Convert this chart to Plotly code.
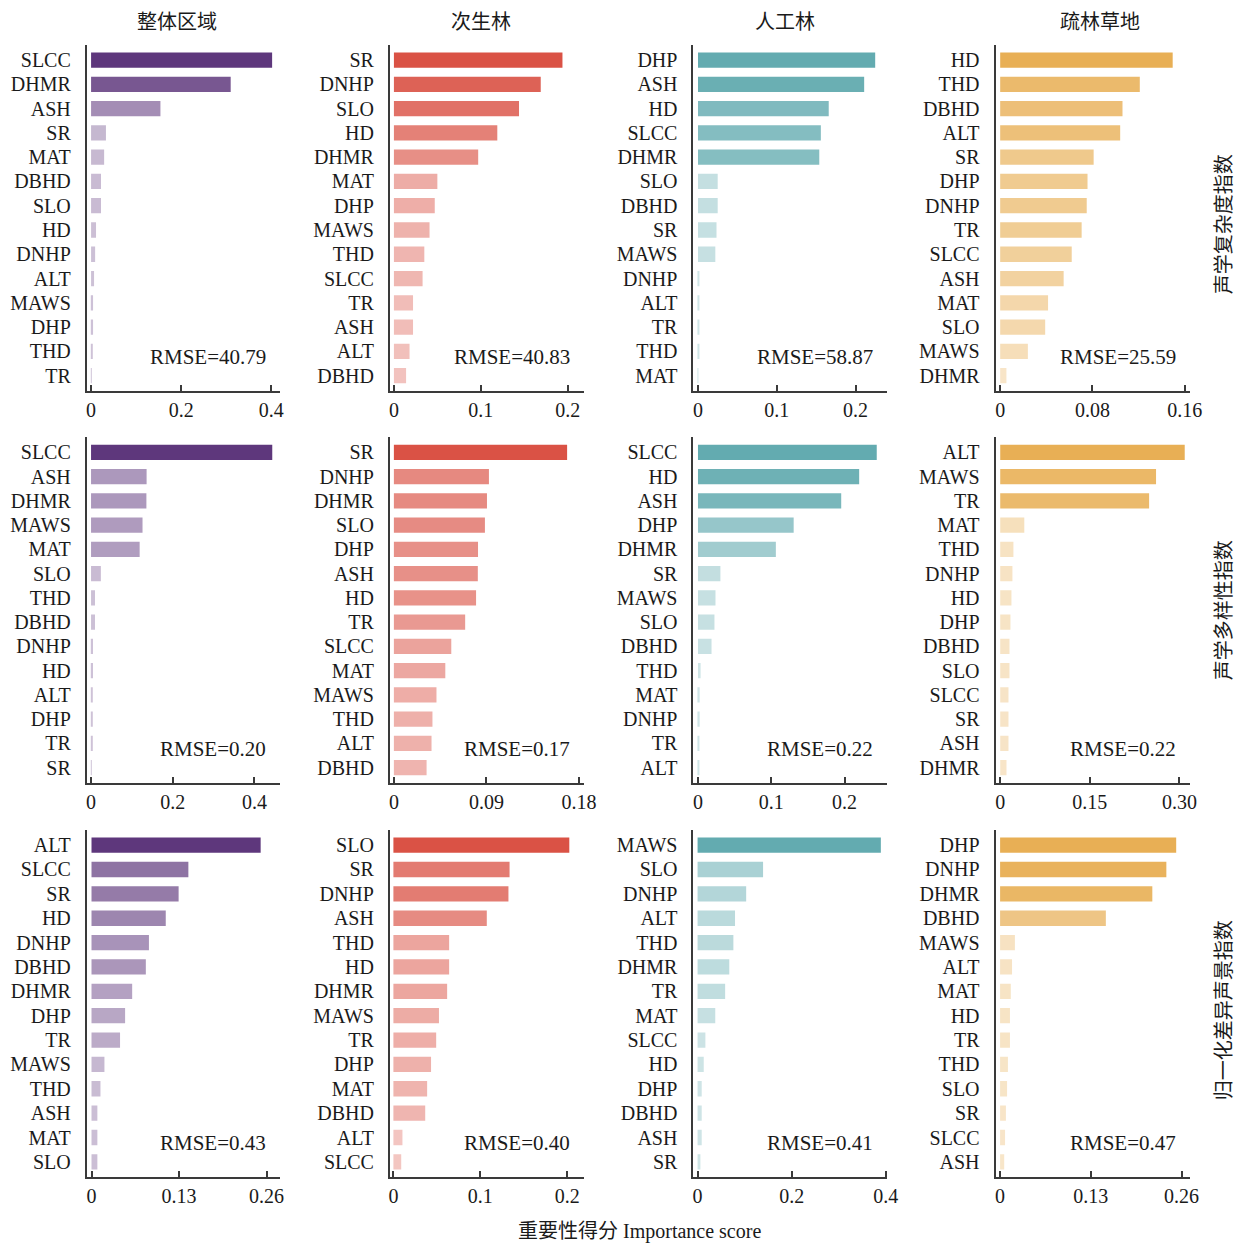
import plotly.graph_objects as go

# ---------------- data ----------------
col_titles = ["整体区域", "次生林", "人工林", "疏林草地"]
row_titles = ["声学复杂度指数", "声学多样性指数", "归一化差异声景指数"]
x_title = "重要性得分 Importance score"

# Row 1: acoustic complexity index
aci_all_labels = ["SLCC", "DHMR", "ASH", "SR", "MAT", "DBHD", "SLO", "HD", "DNHP", "ALT", "MAWS", "DHP", "THD", "TR"]
aci_all_values = [0.402, 0.310, 0.154, 0.033, 0.029, 0.022, 0.022, 0.011, 0.009, 0.0066, 0.0044, 0.0044, 0.002, 0.001]
aci_sec_labels = ["SR", "DNHP", "SLO", "HD", "DHMR", "MAT", "DHP", "MAWS", "THD", "SLCC", "TR", "ASH", "ALT", "DBHD"]
aci_sec_values = [0.194, 0.169, 0.144, 0.119, 0.097, 0.050, 0.047, 0.041, 0.035, 0.033, 0.022, 0.022, 0.018, 0.014]
aci_pla_labels = ["DHP", "ASH", "HD", "SLCC", "DHMR", "SLO", "DBHD", "SR", "MAWS", "DNHP", "ALT", "TR", "THD", "MAT"]
aci_pla_values = [0.225, 0.211, 0.166, 0.156, 0.154, 0.025, 0.025, 0.0235, 0.022, 0.001, 0.001, 0.001, 0.0008, 0.0005]
aci_gra_labels = ["HD", "THD", "DBHD", "ALT", "SR", "DHP", "DNHP", "TR", "SLCC", "ASH", "MAT", "SLO", "MAWS", "DHMR"]
aci_gra_values = [0.1495, 0.121, 0.106, 0.104, 0.081, 0.0757, 0.075, 0.0706, 0.062, 0.055, 0.0415, 0.039, 0.024, 0.0054]

# Row 2: acoustic diversity index
adi_all_labels = ["SLCC", "ASH", "DHMR", "MAWS", "MAT", "SLO", "THD", "DBHD", "DNHP", "HD", "ALT", "DHP", "TR", "SR"]
adi_all_values = [0.4436, 0.136, 0.1355, 0.126, 0.119, 0.024, 0.0097, 0.0097, 0.0048, 0.0048, 0.0024, 0.0024, 0.002, 0.0015]
adi_sec_labels = ["SR", "DNHP", "DHMR", "SLO", "DHP", "ASH", "HD", "TR", "SLCC", "MAT", "MAWS", "THD", "ALT", "DBHD"]
adi_sec_values = [0.1684, 0.0924, 0.0905, 0.0885, 0.0818, 0.0816, 0.0799, 0.0693, 0.0558, 0.050, 0.0414, 0.0375, 0.0366, 0.0318]
adi_pla_labels = ["SLCC", "HD", "ASH", "DHP", "DHMR", "SR", "MAWS", "SLO", "DBHD", "THD", "MAT", "DNHP", "TR", "ALT"]
adi_pla_values = [0.244, 0.220, 0.1955, 0.1306, 0.1063, 0.0306, 0.0239, 0.0225, 0.0185, 0.0036, 0.0023, 0.0023, 0.0018, 0.001]
adi_gra_labels = ["ALT", "MAWS", "TR", "MAT", "THD", "DNHP", "HD", "DHP", "DBHD", "SLO", "SLCC", "SR", "ASH", "DHMR"]
adi_gra_values = [0.3088, 0.2608, 0.2492, 0.0403, 0.0221, 0.0204, 0.0188, 0.0171, 0.0155, 0.0155, 0.0138, 0.0138, 0.0138, 0.0105]

# Row 3: normalized difference soundscape index
ndsi_all_labels = ["ALT", "SLCC", "SR", "HD", "DNHP", "DBHD", "DHMR", "DHP", "TR", "MAWS", "THD", "ASH", "MAT", "SLO"]
ndsi_all_values = [0.2513, 0.1439, 0.1294, 0.1103, 0.0853, 0.0807, 0.0604, 0.0499, 0.0424, 0.0192, 0.0133, 0.0087, 0.0087, 0.0087]
ndsi_sec_labels = ["SLO", "SR", "DNHP", "ASH", "THD", "HD", "DHMR", "MAWS", "TR", "DHP", "MAT", "DBHD", "ALT", "SLCC"]
ndsi_sec_values = [0.2023, 0.1336, 0.1323, 0.1074, 0.0641, 0.0641, 0.0618, 0.0524, 0.0492, 0.0433, 0.0388, 0.0366, 0.0104, 0.009]
ndsi_pla_labels = ["MAWS", "SLO", "DNHP", "ALT", "THD", "DHMR", "TR", "MAT", "SLCC", "HD", "DHP", "DBHD", "ASH", "SR"]
ndsi_pla_values = [0.3895, 0.1392, 0.1033, 0.0796, 0.0761, 0.0674, 0.0586, 0.0376, 0.0166, 0.0131, 0.0088, 0.0088, 0.0088, 0.006]
ndsi_gra_labels = ["DHP", "DNHP", "DHMR", "DBHD", "MAWS", "ALT", "MAT", "HD", "TR", "THD", "SLO", "SR", "SLCC", "ASH"]
ndsi_gra_values = [0.2523, 0.2382, 0.2181, 0.1515, 0.0212, 0.0171, 0.0153, 0.0141, 0.0141, 0.0112, 0.010, 0.0083, 0.0071, 0.0059]

rmse_texts = [
    ["RMSE=40.79", "RMSE=40.83", "RMSE=58.87", "RMSE=25.59"],
    ["RMSE=0.20", "RMSE=0.17", "RMSE=0.22", "RMSE=0.22"],
    ["RMSE=0.43", "RMSE=0.40", "RMSE=0.41", "RMSE=0.47"],
]

tick_vals = [
    [[0, 0.2, 0.4], [0, 0.1, 0.2], [0, 0.1, 0.2], [0, 0.08, 0.16]],
    [[0, 0.2, 0.4], [0, 0.09, 0.18], [0, 0.1, 0.2], [0, 0.15, 0.30]],
    [[0, 0.13, 0.26], [0, 0.1, 0.2], [0, 0.2, 0.4], [0, 0.13, 0.26]],
]
tick_text = [
    [["0", "0.2", "0.4"], ["0", "0.1", "0.2"], ["0", "0.1", "0.2"], ["0", "0.08", "0.16"]],
    [["0", "0.2", "0.4"], ["0", "0.09", "0.18"], ["0", "0.1", "0.2"], ["0", "0.15", "0.30"]],
    [["0", "0.13", "0.26"], ["0", "0.1", "0.2"], ["0", "0.2", "0.4"], ["0", "0.13", "0.26"]],
]

panels = [
    [(aci_all_labels, aci_all_values), (aci_sec_labels, aci_sec_values),
     (aci_pla_labels, aci_pla_values), (aci_gra_labels, aci_gra_values)],
    [(adi_all_labels, adi_all_values), (adi_sec_labels, adi_sec_values),
     (adi_pla_labels, adi_pla_values), (adi_gra_labels, adi_gra_values)],
    [(ndsi_all_labels, ndsi_all_values), (ndsi_sec_labels, ndsi_sec_values),
     (ndsi_pla_labels, ndsi_pla_values), (ndsi_gra_labels, ndsi_gra_values)],
]

# ---------------- style / layout ----------------
W, H = 1252, 1243
base_colors = [(94, 55, 124), (218, 82, 69), (99, 171, 176), (232, 175, 85)]
x_ranges = [
    [[-0.0095, 0.419], [-0.0046, 0.219], [-0.0058, 0.240], [-0.004, 0.1647]],
    [[-0.0104, 0.462], [-0.00385, 0.185], [-0.0062, 0.258], [-0.0078, 0.318]],
    [[-0.007, 0.2797], [-0.004, 0.2194], [-0.0088, 0.4026], [-0.0065, 0.2724]],
]
col_px = [(86.7, 281.7), (393, 589.3), (699.7, 895.3), (1005, 1201.7)]
row_px = [(45, 390.7), (437.3, 782.7), (830, 1177)]
col_title_x = [178, 485, 792, 1111]
row_title_y = [224, 610, 1010]

FONT = "Liberation Serif, Times New Roman, Noto Sans CJK SC, serif"
CJK = "Noto Sans CJK SC, Liberation Serif, serif"
TXT = "#1a1a1a"
AX = "#3a3a3a"


def shade(rgb, v, vmax):
    a = 0.3 + 0.7 * (v / vmax)
    r, g, b = (round(255 - a * (255 - c)) for c in rgb)
    return f"rgb({r},{g},{b})"


fig = go.Figure()
layout = dict(
    width=W, height=H, autosize=False,
    margin=dict(l=0, r=0, t=0, b=0),
    paper_bgcolor="white", plot_bgcolor="white",
    showlegend=False,
    font=dict(family=FONT, size=20, color=TXT),
)
annotations = []

idx = 0
for r in range(3):
    for c in range(4):
        idx += 1
        labels, values = panels[r][c]
        vmax = max(values)
        colors = [shade(base_colors[c], v, vmax) for v in values]
        xa = "x" if idx == 1 else f"x{idx}"
        ya = "y" if idx == 1 else f"y{idx}"
        fig.add_trace(go.Bar(
            x=values, y=labels, orientation="h",
            marker=dict(color=colors, line=dict(width=0)),
            width=0.63,
            xaxis=xa, yaxis=ya, hoverinfo="x+y",
        ))
        x0, x1 = col_px[c]
        y0, y1 = row_px[r]
        xkey = "xaxis" if idx == 1 else f"xaxis{idx}"
        ykey = "yaxis" if idx == 1 else f"yaxis{idx}"
        layout[xkey] = dict(
            domain=[x0 / W, x1 / W], anchor=ya,
            range=x_ranges[r][c],
            tickvals=tick_vals[r][c], ticktext=tick_text[r][c],
            ticks="inside", ticklen=6, tickwidth=1.5, tickcolor=AX,
            showline=True, linecolor=AX, linewidth=2,
            showgrid=False, zeroline=False,
            tickfont=dict(family=FONT, size=20, color=TXT),
            ticklabelstandoff=0,
        )
        layout[ykey] = dict(
            domain=[1 - y1 / H, 1 - y0 / H], anchor=xa,
            type="category", categoryorder="array", categoryarray=labels,
            range=[13.62, -0.62],
            ticks="", showline=True, linecolor=AX, linewidth=2,
            showgrid=False, zeroline=False,
            tickfont=dict(family=FONT, size=20, color=TXT),
            ticklabelstandoff=10,
        )
        annotations.append(dict(
            text=rmse_texts[r][c], xref=f"{xa} domain", yref=f"{ya} domain",
            x=(x1 - 12 - x0) / (x1 - x0), y=34 / (y1 - y0),
            xanchor="right", yanchor="middle", showarrow=False,
            font=dict(family=FONT, size=21, color=TXT),
        ))

for c in range(4):
    annotations.append(dict(
        text=col_titles[c], xref="paper", yref="paper",
        x=col_title_x[c] / W, y=1 - 20 / H, xanchor="center", yanchor="middle",
        showarrow=False, font=dict(family=CJK, size=20, color=TXT),
    ))
for r in range(3):
    annotations.append(dict(
        text=row_titles[r], xref="paper", yref="paper",
        x=1234 / W, y=1 - row_title_y[r] / H, xanchor="center", yanchor="middle",
        textangle=-90, showarrow=False, font=dict(family=CJK, size=20, color=TXT),
    ))
annotations.append(dict(
    text=x_title, xref="paper", yref="paper",
    x=645 / W, y=1 - 1231 / H, xanchor="center", yanchor="middle",
    showarrow=False, font=dict(family=FONT, size=20, color=TXT),
))

layout["annotations"] = annotations
fig.update_layout(**layout)

fix_page = (
    "document.documentElement.style.margin='0';"
    "document.documentElement.style.overflow='hidden';"
    "document.body.style.margin='0';"
    "document.body.style.overflow='hidden';"
)
fig.write_html("out.html", config={"responsive": False}, post_script=fix_page)
